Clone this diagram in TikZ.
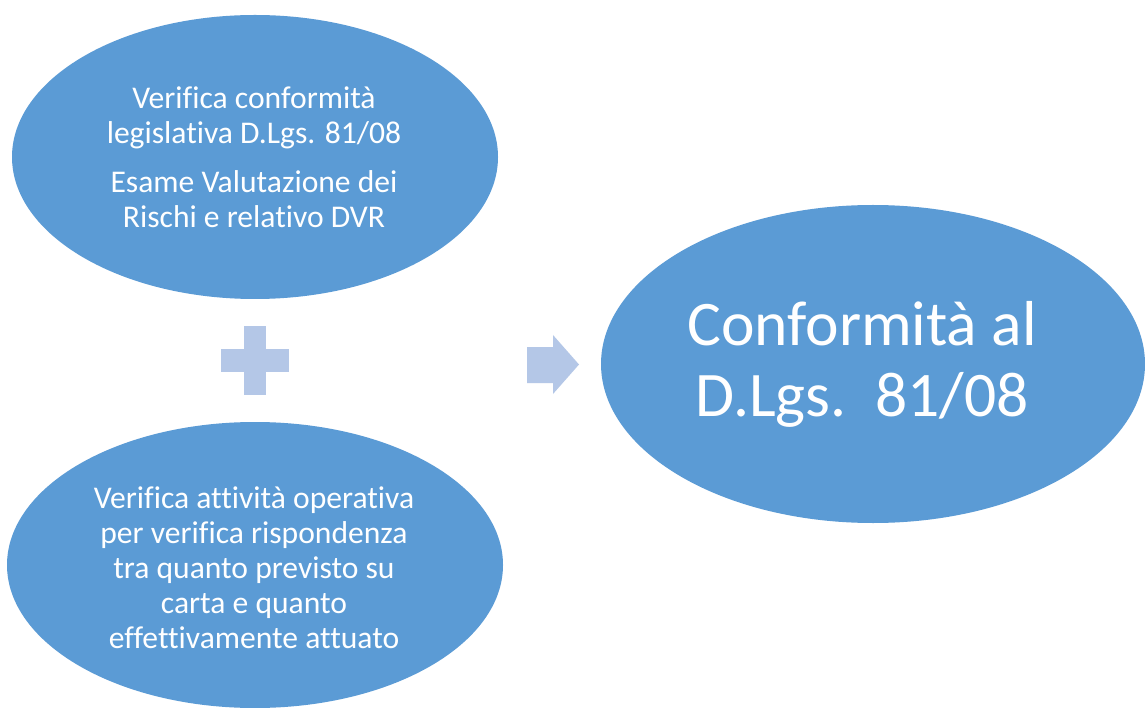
\documentclass[tikz,border=0pt]{standalone}
\usepackage{fontspec}
\setmainfont[RawFeature={-liga;-clig;-dlig}]{Carlito}
\usetikzlibrary{shapes.geometric}
\definecolor{ellblue}{RGB}{91,155,213}
\definecolor{lightblue}{RGB}{180,199,231}
\tikzset{
  bubble/.style={ellipse, fill=ellblue, draw=none, inner sep=0pt},
  smalltext/.style={text=white, align=center, font=\fontsize{31.6}{35}\selectfont, inner sep=0pt},
  bigtext/.style={text=white, align=center, font=\fontsize{63.5}{71}\selectfont, inner sep=0pt},
  sign/.style={fill=lightblue, draw=none}
}
\begin{document}
\begin{tikzpicture}[x=1pt,y=-1pt]
\useasboundingbox (0,0) rectangle (1145,708);
\fill[white] (0,0) rectangle (1145,708);
% ellipses
\node[bubble, minimum width=486, minimum height=284] (e1) at (255,157) {};
\node[bubble, minimum width=496, minimum height=286] (e2) at (255,565) {};
\node[bubble, minimum width=544, minimum height=318] (e3) at (873,364) {};
% texts
\node[smalltext] (t1) at (254,157.5) {Verifica conformità\\legislativa D.Lgs. 81/08\\[14pt]Esame Valutazione dei\\Rischi e relativo DVR};
\node[smalltext] (t2) at (254,568) {Verifica attività operativa\\per verifica rispondenza\\tra quanto previsto su\\carta e quanto\\effettivamente attuato};
\node[bigtext] (t3) at (862,364) {Conformità al\\D.Lgs.~~81/08};
% plus sign
\coordinate (plus) at (255,360.5);
\fill[sign] (221,349) rectangle (289,372);
\fill[sign] (244,326) rectangle (266,395);
% arrow
\coordinate (arr) at (553,364.5);
\fill[sign] (527,347) -- (553,347) -- (553,335) -- (579,364.5) -- (553,394) -- (553,383) -- (527,383) -- cycle;
\end{tikzpicture}
\end{document}
